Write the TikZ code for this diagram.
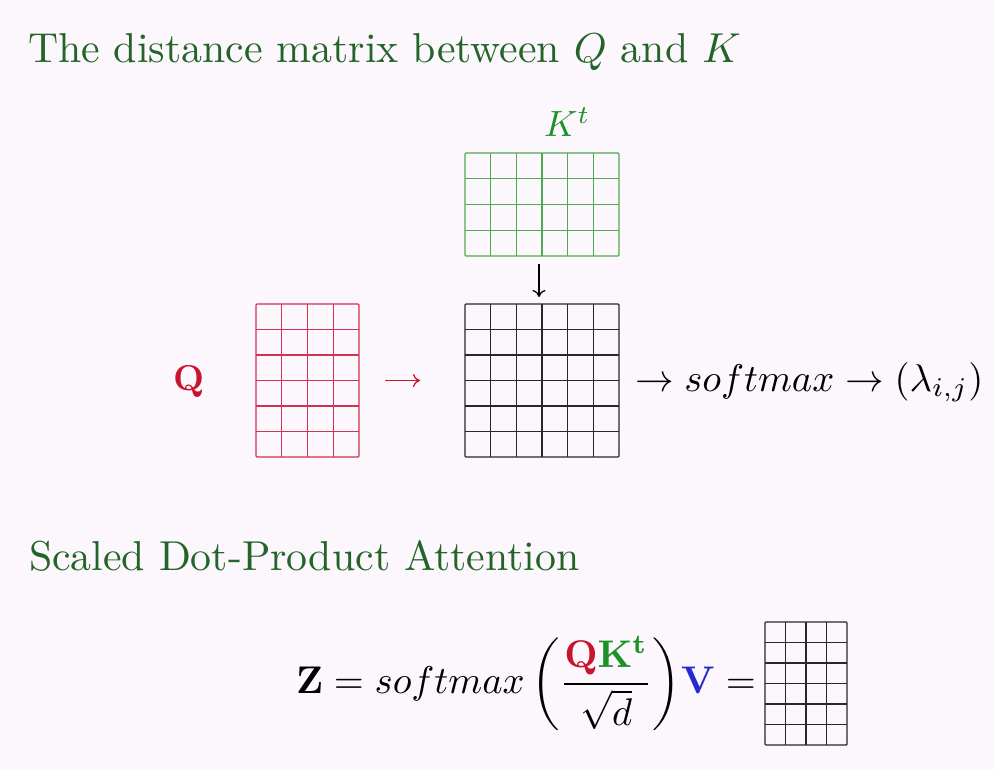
\documentclass[tikz,border=0pt]{standalone}
\usepackage{amsmath}
\usepackage{graphicx}
\usetikzlibrary{calc,arrows.meta}
\definecolor{bg}{RGB}{252,247,252}
\definecolor{titlegreen}{RGB}{35,100,40}
\definecolor{kgreen}{RGB}{30,145,40}
\definecolor{kline}{RGB}{80,170,80}
\definecolor{qred}{RGB}{200,20,45}
\definecolor{qline}{RGB}{210,50,80}
\definecolor{mline}{RGB}{40,40,40}
\definecolor{vblue}{RGB}{40,40,210}
\newcommand{\sbx}[2][4.18]{\scalebox{#1}{#2}}
\begin{document}
\begin{tikzpicture}[x=1pt,y=-1pt,
  gridbox/.style={draw,inner sep=0pt,outer sep=0pt,line width=1.4pt,rounded corners=1pt},
  gline/.style={line width=1.4pt},
  txt/.style={inner sep=0pt,outer sep=0pt},
  conn/.style={line width=1.3pt,-{To[length=7pt,width=13pt]}}]
\fill[bg] (0,0) rectangle (994,770);
\useasboundingbox (0,0) rectangle (994,770);
% headings
\node[txt,anchor=base west,text=titlegreen] (t1) at (28,63) {\sbx{The distance matrix between $Q$ and $K$}};
\node[txt,anchor=base west,text=titlegreen] (t2) at (29,570) {\sbx{Scaled Dot-Product Attention}};
% grids
\node[gridbox,draw=kline,minimum width=154pt,minimum height=103pt] (Kt) at (542,204.5) {};
\node[gridbox,draw=qline,minimum width=103pt,minimum height=153pt] (Q) at (307.5,380.5) {};
\node[gridbox,draw=mline,minimum width=154pt,minimum height=153pt] (M) at (542,380.5) {};
\node[gridbox,draw=mline,minimum width=82pt,minimum height=123pt] (V) at (806,683.5) {};
\foreach \i in {1,...,5}{
  \draw[gline,kline] ($(Kt.north west)!\i/6!(Kt.north east)$) -- ($(Kt.south west)!\i/6!(Kt.south east)$);
  \draw[gline,mline] ($(M.north west)!\i/6!(M.north east)$) -- ($(M.south west)!\i/6!(M.south east)$);
  \draw[gline,mline] ($(M.north west)!\i/6!(M.south west)$) -- ($(M.north east)!\i/6!(M.south east)$);
  \draw[gline,qline] ($(Q.north west)!\i/6!(Q.south west)$) -- ($(Q.north east)!\i/6!(Q.south east)$);
  \draw[gline,mline] ($(V.north west)!\i/6!(V.south west)$) -- ($(V.north east)!\i/6!(V.south east)$);
}
\foreach \j in {1,2,3}{
  \draw[gline,kline] ($(Kt.north west)!\j/4!(Kt.south west)$) -- ($(Kt.north east)!\j/4!(Kt.south east)$);
  \draw[gline,qline] ($(Q.north west)!\j/4!(Q.north east)$) -- ($(Q.south west)!\j/4!(Q.south east)$);
  \draw[gline,mline] ($(V.north west)!\j/4!(V.north east)$) -- ($(V.south west)!\j/4!(V.south east)$);
}
% labels
\node[txt,anchor=base west,text=kgreen] (ktl) at (544,137) {\sbx[3.65]{$K^t$}};
\node[txt,anchor=base west,text=qred] (ql) at (173,390) {\sbx[3.6]{$\mathbf{Q}$}};
\node[txt,anchor=base west] (sm) at (635,391) {\sbx[3.86]{$\rightarrow softmax \rightarrow (\lambda_{i,j})$}};
% connectors
\draw[conn,qred,shorten <=26pt,shorten >=45pt] (Q.east) -- (M.west);
\draw[conn,black,shorten <=8pt,shorten >=7pt] ([xshift=-3pt]Kt.south) -- ([xshift=-3pt]M.north);
% formula
\node[txt,anchor=east] (eq) at (756,683.5) {\sbx[3.86]{$\mathbf{Z} = softmax\left(\dfrac{\color{qred}\mathbf{Q}\color{kgreen}\mathbf{K}^{\mathbf{t}}}{\sqrt{d}}\right)\mkern-3mu\color{vblue}\mathbf{V}\color{black} =$}};
\end{tikzpicture}
\end{document}
